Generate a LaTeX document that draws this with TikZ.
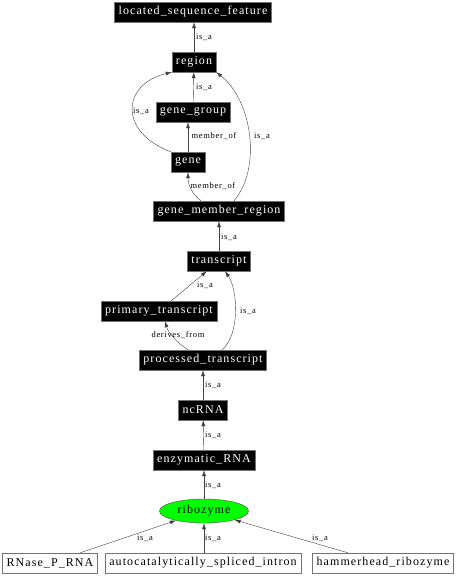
\documentclass[tikz,border=0pt]{standalone}
\usepackage{fontspec}
\setmainfont{Liberation Serif}
\newfontfamily\termfont[LetterSpace=9]{Liberation Serif}
\newfontfamily\relfont[LetterSpace=8]{Liberation Serif}
\usepackage{tikz}
\usetikzlibrary{arrows.meta,shapes.geometric,positioning}
\tikzset{%
	term/.style  = {draw=black!55, fill=black, text=white, rectangle, inner xsep=4pt, minimum height=20pt, font=\termfont\fontsize{12}{14}\selectfont},
	leaf/.style  = {draw=black!55, fill=white, rectangle, inner xsep=4pt, minimum height=20pt, font=\termfont\fontsize{12}{14}\selectfont},
	focus/.style = {draw=black!70, fill=green, ellipse, minimum width=89pt, minimum height=24pt, inner sep=0pt, font=\termfont\fontsize{12}{14}\selectfont},
	rel/.style   = {draw=black!75, -{Latex[length=6pt,width=4pt]}},
	lbl/.style   = {font=\relfont\fontsize{8.5}{10}\selectfont, inner sep=0pt},
}

\begin{document}
\begin{tikzpicture}[x=1pt,y=-1pt]
	\useasboundingbox (0,0) rectangle (458,576);
	% terms
	\node[term] (lsf) at (193,12) {located\_sequence\_feature};
	\node[term] (region) at (194,62) {region};
	\node[term] (genegroup) at (193,112) {gene\_group};
	\node[term] (gene) at (188,162) {gene};
	\node[term] (gmr) at (219,211) {gene\_member\_region};
	\node[term] (transcript) at (219,261) {transcript};
	\node[term] (primary) at (159,311) {primary\_transcript};
	\node[term] (processed) at (203,360) {processed\_transcript};
	\node[term] (ncrna) at (203,410) {ncRNA};
	\node[term] (enzrna) at (204,460) {enzymatic\_RNA};
	\node[focus] (ribozyme) at (204,511) {ribozyme};
	\node[leaf] (rnasep) at (50,563) {RNase\_P\_RNA};
	\node[leaf] (autocat) at (203,563) {autocatalytically\_spliced\_intron};
	\node[leaf] (hammer) at (383,563) {hammerhead\_ribozyme};
	
	% relations
	\draw[rel] (region) -- (region |- lsf.south) node[lbl] (l1) at (204,37) {is\_a};
	\draw[rel] (genegroup) -- (region) node[lbl] (l2) at (204,87) {is\_a};
	\draw[rel] (gene.north west) .. controls (118,132) and (122,84) .. (region.south west) node[lbl] (l3) at (141,111) {is\_a};
	\draw[rel] (gene.north) -- (gene.north |- genegroup.south) node[lbl] (l4) at (214,136) {member\_of};
	\draw[rel] ([xshift=-18pt]gmr.north) .. controls (192,194) and (188,185) .. (gene.south) node[lbl] (l5) at (213,186) {member\_of};
	\draw[rel] ([xshift=15pt]gmr.north) .. controls (262,168) and (252,100) .. (region.south east) node[lbl] (l6) at (262,136) {is\_a};
	\draw[rel] (transcript) -- (gmr) node[lbl] (l7) at (229,237) {is\_a};
	\draw[rel] (primary) -- (transcript) node[lbl] (l8) at (205,285) {is\_a};
	\draw[rel] ([xshift=19pt]processed.north) .. controls (240,335) and (238,290) .. ([xshift=6pt]transcript.south) node[lbl] (l9) at (248,311) {is\_a};
	\draw[rel] ([xshift=-15pt]processed.north) .. controls (176,342) and (168,332) .. ([xshift=6pt]primary.south) node[lbl] (l10) at (178,335) {derives\_from};
	\draw[rel] (ncrna) -- (processed) node[lbl] (l11) at (213,385) {is\_a};
	\draw[rel] (enzrna) -- (ncrna) node[lbl] (l12) at (213,435) {is\_a};
	\draw[rel] (ribozyme) -- (enzrna) node[lbl] (l13) at (213,485) {is\_a};
	\draw[rel] (rnasep) -- (ribozyme) node[lbl] (l14) at (145,538) {is\_a};
	\draw[rel] (autocat.north -| ribozyme.south) -- (ribozyme) node[lbl] (l15) at (213,538) {is\_a};
	\draw[rel] (hammer) -- (ribozyme) node[lbl] (l16) at (320,538) {is\_a};
\end{tikzpicture}
\end{document}
